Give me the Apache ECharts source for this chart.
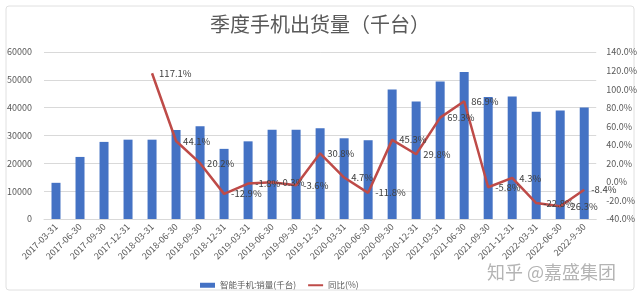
<!DOCTYPE html>
<html>
<head>
<meta charset="utf-8">
<script src="https://cdn.jsdelivr.net/npm/echarts@6/dist/echarts.min.js"></script>
<style>html,body{margin:0;padding:0;background:#fff;}#c{width:640px;height:297px;}</style>
</head>
<body>
<div id="c"></div>
<script>
var categories = ['2017-03-31','2017-06-30','2017-09-30','2017-12-31','2018-03-31','2018-06-30','2018-09-30','2018-12-31','2019-03-31','2019-06-30','2019-09-30','2019-12-31','2020-03-31','2020-06-30','2020-09-30','2020-12-31','2021-03-31','2021-06-30','2021-09-30','2021-12-31','2022-03-31','2022-06-30','2022-9-30'];
var sales = [13000,22300,27700,28500,28500,32000,33300,25200,27900,32100,32100,32600,29000,28300,46500,42200,49400,52800,43800,44000,38500,39000,40100];
var yoy = [null,null,null,null,117.1,44.1,20.2,-12.9,-1.8,-0.3,-3.6,30.8,4.7,-11.8,45.3,29.8,69.3,86.9,-5.8,4.3,-22.8,-26.3,-8.4];
var leftTicks = {min:0, max:60000, interval:10000};
var rightTicks = {min:-40, max:140, interval:20};
var seriesNames = ['智能手机:销量(千台)','同比(%)'];
var titleText = '季度手机出货量（千台）';
var watermark = '知乎 @嘉盛集团';

var chart = echarts.init(document.getElementById('c'), null, {renderer:'canvas'});
var font = '"Noto Sans CJK SC", "Liberation Sans", sans-serif';
chart.setOption({
  animation:false,
  backgroundColor:'#fff',
  textStyle:{fontFamily:font},
  title:{text:titleText,left:'center',top:9,textStyle:{fontSize:20,fontWeight:'normal',color:'#595959',fontFamily:font}},
  graphic:[
    {type:'rect',shape:{x:6,y:6,width:628,height:284,r:3},style:{fill:'none',stroke:'#e0e0e0',lineWidth:1},z:-1},
    {type:'text',left:487,top:263,style:{text:watermark,fontSize:18,fill:'#b4b4b4',fontFamily:font}}
  ],
  legend:{top:276,left:195,itemWidth:15,itemHeight:5,itemGap:12,textStyle:{fontSize:8.5,color:'#595959'},
    data:[{name:seriesNames[0],icon:'rect'},{name:seriesNames[1],icon:'path://M0,0 L15,0 L15,2 L0,2 Z'}]},
  grid:{left:44,right:43,top:52,bottom:78},
  xAxis:{type:'category',data:categories,axisTick:{show:false},axisLine:{lineStyle:{color:'#d9d9d9'}},
    axisLabel:{rotate:45,fontSize:9,color:'#595959',interval:0,margin:6}},
  yAxis:[
    {type:'value',min:leftTicks.min,max:leftTicks.max,interval:leftTicks.interval,
      axisLabel:{fontSize:9,color:'#595959',margin:12,formatter:function(v){return String(v);}},axisLine:{show:false},axisTick:{show:false},
      splitLine:{lineStyle:{color:'#d9d9d9'}}},
    {type:'value',min:rightTicks.min,max:rightTicks.max,interval:rightTicks.interval,
      axisLabel:{fontSize:9,color:'#595959',margin:10,formatter:function(v){return v.toFixed(1)+'%';}},
      axisLine:{show:false},axisTick:{show:false},splitLine:{show:false}}
  ],
  series:[
    {name:seriesNames[0],type:'bar',data:sales,barWidth:9,itemStyle:{color:'#4472C4'},yAxisIndex:0},
    {name:seriesNames[1],type:'line',data:yoy,yAxisIndex:1,symbol:'circle',symbolSize:0.1,showSymbol:true,connectNulls:false,
      lineStyle:{color:'#BE4B48',width:2.5},itemStyle:{color:'#BE4B48'},
      label:{show:true,position:'right',distance:7,fontSize:9.5,color:'#404040',formatter:function(p){return p.value==null?'':p.value.toFixed(1)+'%';}}}
  ]
});
</script>
</body>
</html>
